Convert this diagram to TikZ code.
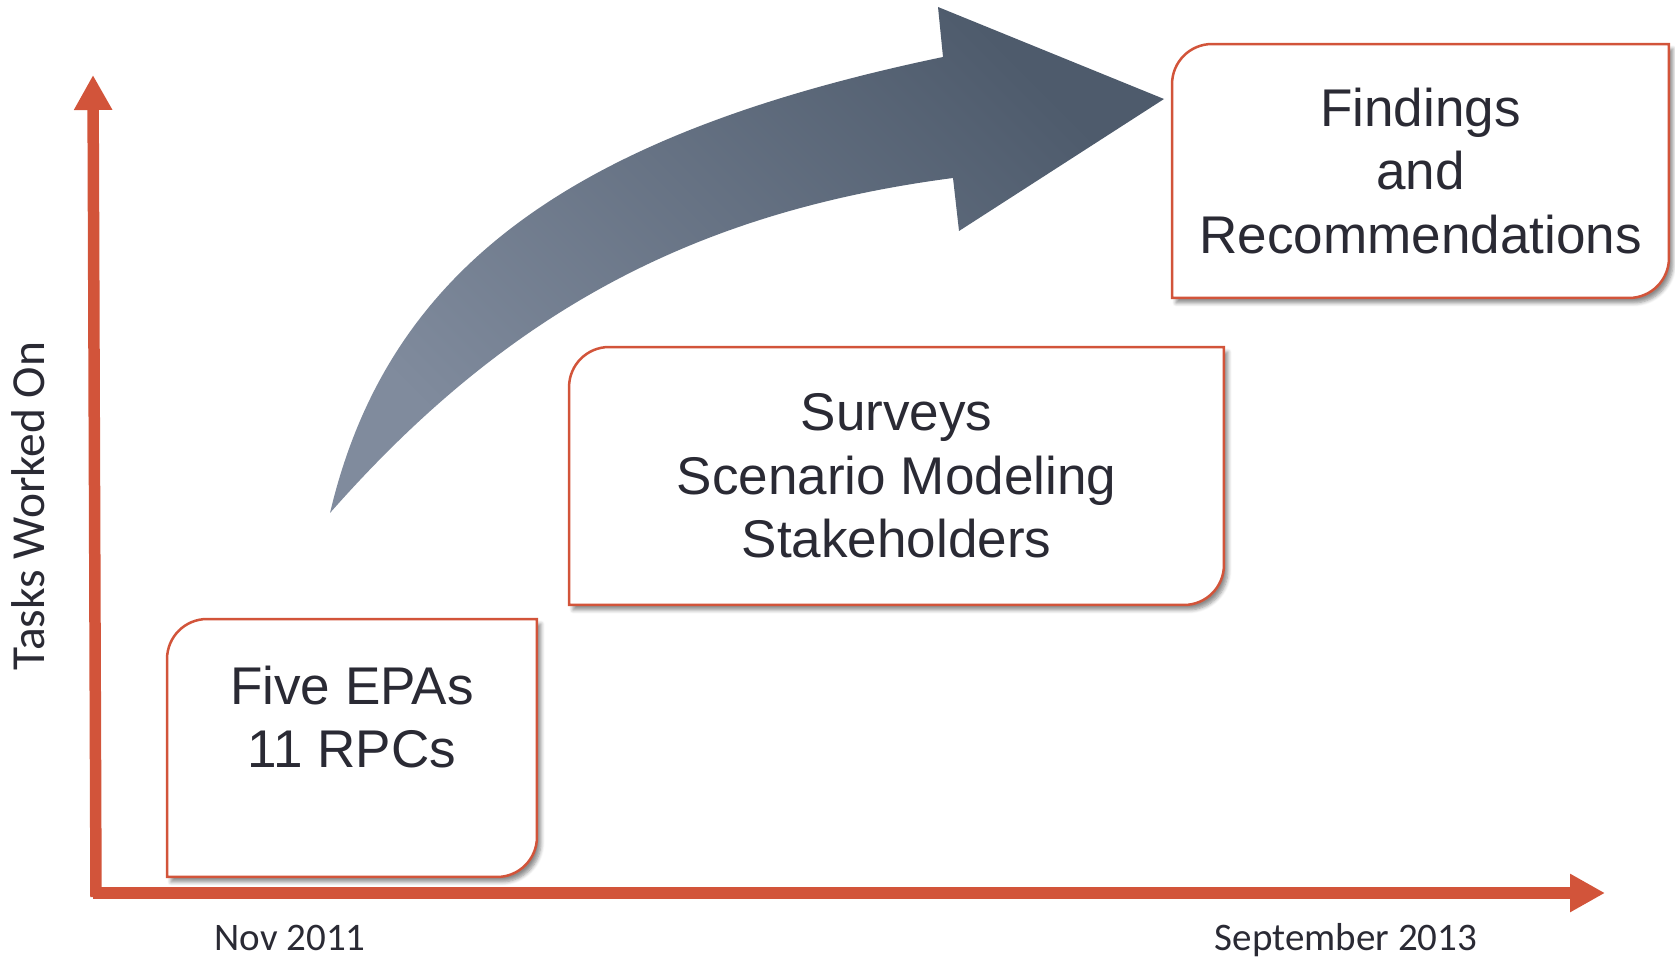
\documentclass[tikz,border=0pt]{standalone}
\usepackage{fontspec}
\setmainfont{Liberation Sans}
\newfontfamily\calibri{Carlito}
\usetikzlibrary{arrows.meta, calc, positioning, shadows.blur}

\definecolor{rust}{RGB}{210,84,58}
\definecolor{ink}{RGB}{42,42,52}
\definecolor{slatelight}{RGB}{128,139,157}
\definecolor{slatedark}{RGB}{78,91,108}

\newcommand{\cornerrad}{0.8cm}
\newcommand{\tabframe}[1]{%
\draw[frame] (#1.south west) -- ([yshift=-\cornerrad]#1.north west)
	arc[start angle=180, end angle=90, radius=\cornerrad] -- (#1.north east) --
	([yshift=\cornerrad]#1.south east) arc[start angle=0, end angle=-90, radius=\cornerrad] -- cycle;}

\tikzset{
	axis/.style = {draw=rust, line width=0.23cm, -{Triangle[length=0.7cm, width=0.72cm]}},
	frame/.style = {draw=rust, line width=0.05cm, fill=white,
		blur shadow={shadow xshift=0.08cm, shadow yshift=-0.1cm, shadow blur steps=6, shadow opacity=45}},
	stage/.style = {inner sep=0, outer sep=0},
	stagetext/.style = {text=ink, align=center, inner sep=0, font=\fontsize{30.2pt}{36.1pt}\selectfont},
	datelabel/.style = {text=ink, anchor=base, inner sep=0, font=\calibri\fontsize{22.2pt}{26pt}\selectfont}
}

\begin{document}
\begin{tikzpicture}[x=0.02cm, y=0.02cm]
\useasboundingbox (0, 0) rectangle (1675, 957);

% axes
\coordinate (origin) at (93, 64);
\coordinate (ytip) at (93, 882);
\coordinate (xtip) at (1605, 64);
\draw[axis] (96, 60) -- (ytip);
\draw[axis] (origin) -- (xtip);

\node[datelabel] (start) at (290, 7) {Nov 2011};
\node[datelabel] (finish) at (1346, 7) {September 2013};
\node[datelabel, rotate=90, font=\calibri\fontsize{27pt}{32pt}\selectfont] (tasks) at (44, 451) {Tasks Worked On};

% progress arrow
\shade[top color=slatedark, bottom color=slatelight, shading angle=-45]
	(330, 444) .. controls (388, 690) and (574, 823) ..
	(943, 900) --
	(938, 950) --
	(1164, 858) --
	(959, 726) --
	(953, 779) .. controls (693, 745) and (506, 644) ..
	(330, 444) -- cycle;

% stages
\node[stage, minimum width=7.4cm, minimum height=5.16cm] (epas) at (352, 209) {};
\node[stage, minimum width=13.1cm, minimum height=5.16cm] (surveys) at (896.5, 481) {};
\node[stage, minimum width=9.94cm, minimum height=5.08cm] (findings) at (1420.5, 786) {};
\tabframe{epas}
\tabframe{surveys}
\tabframe{findings}

\node[stagetext] (epastext) at ([yshift=0.62cm]epas.center) {Five EPAs\\11 RPCs};
\node[stagetext] (surveystext) at (surveys.center) {Surveys\\Scenario Modeling\\Stakeholders};
\node[stagetext] (findingstext) at (findings.center) {Findings\\and\\Recommendations};
\end{tikzpicture}
\end{document}
